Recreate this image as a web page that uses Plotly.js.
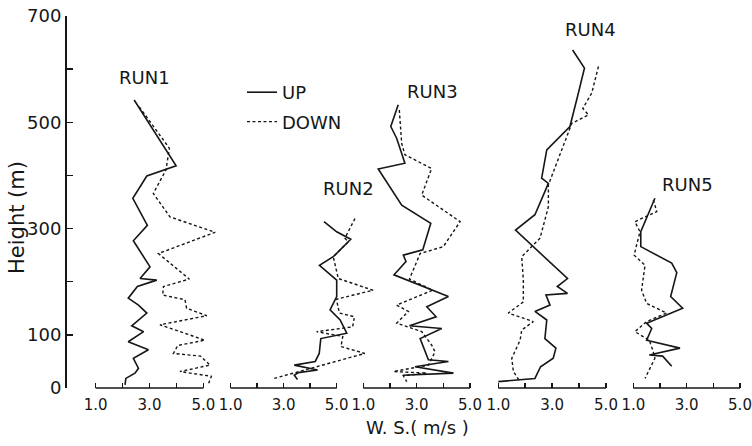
<!DOCTYPE html>
<html>
<head>
<meta charset="utf-8">
<script src="https://cdn.plot.ly/plotly-3.0.1.min.js"></script>
<style>
  html, body { margin: 0; padding: 0; background: #fff; }
  #chart { width: 752px; height: 446px; }
</style>
</head>
<body>
<div id="chart"></div>
<script>
// Wind speed profiles (m/s) against height (m), ascent (UP) and descent (DOWN) for five runs.
const runNames = ['RUN1', 'RUN2', 'RUN3', 'RUN4', 'RUN5'];

const run1UpSpeed    = [2.43, 3.99, 2.90, 2.38, 2.92, 2.40, 3.02, 2.65, 3.27, 2.55, 2.21, 2.59, 2.90, 2.34, 2.78, 2.21, 2.96, 2.40, 2.59, 2.46, 2.12, 2.09];
const run1UpHeight   = [542, 418, 399, 357, 306, 277, 228, 206, 203, 191, 169, 156, 141, 117, 106, 87, 72, 56, 37, 28, 18, 6];
const run1DownSpeed  = [2.62, 3.74, 3.61, 3.14, 3.76, 5.44, 3.33, 4.48, 3.52, 3.49, 4.32, 4.38, 5.13, 3.39, 5.06, 4.05, 3.89, 4.90, 5.25, 4.13, 5.30, 5.20];
const run1DownHeight = [529, 451, 410, 366, 322, 293, 253, 205, 191, 175, 166, 150, 136, 119, 90, 80, 65, 60, 43, 31, 22, 9];

const run2UpSpeed    = [4.52, 5.00, 5.53, 4.87, 4.35, 5.00, 5.00, 4.75, 5.13, 5.38, 4.40, 4.34, 4.19, 3.40, 4.28, 3.55, 3.40, 3.52];
const run2UpHeight   = [313, 294, 280, 247, 231, 203, 172, 147, 128, 103, 93, 65, 50, 43, 34, 29, 24, 16];
const run2DownSpeed  = [5.69, 5.31, 5.44, 4.87, 5.06, 6.37, 4.99, 5.10, 5.67, 5.60, 4.24, 5.23, 5.16, 6.06, 2.64];
const run2DownHeight = [319, 282, 275, 247, 206, 184, 167, 141, 134, 115, 106, 97, 78, 65, 18];

const run3UpSpeed    = [2.31, 2.03, 2.25, 2.56, 1.56, 2.44, 3.53, 3.23, 2.50, 2.60, 2.15, 4.19, 3.38, 3.73, 2.73, 3.94, 3.13, 3.25, 3.44, 4.19, 2.94, 4.38, 2.48];
const run3UpHeight   = [533, 492, 470, 423, 412, 344, 310, 260, 250, 238, 213, 172, 153, 134, 117, 112, 93, 78, 53, 50, 40, 28, 24];
const run3DownSpeed  = [2.35, 2.44, 2.56, 3.56, 3.19, 4.63, 4.00, 3.13, 2.73, 3.60, 2.25, 2.69, 2.25, 3.19, 3.56, 3.69, 3.44, 2.13, 3.38, 2.50, 2.63];
const run3DownHeight = [523, 460, 439, 413, 363, 313, 266, 253, 205, 184, 156, 144, 122, 106, 81, 68, 43, 31, 28, 23, 12];

const run4UpSpeed    = [3.76, 4.20, 3.94, 3.66, 2.80, 2.61, 2.86, 2.36, 1.64, 3.57, 3.19, 3.57, 2.77, 2.92, 2.36, 2.80, 2.73, 3.14, 3.04, 2.57, 2.36, 1.00];
const run4UpHeight   = [636, 602, 548, 492, 448, 395, 385, 326, 297, 206, 191, 178, 175, 156, 144, 128, 93, 75, 56, 40, 18, 12];
const run4DownSpeed  = [4.72, 4.47, 4.14, 4.35, 3.73, 2.86, 2.86, 2.55, 1.87, 1.93, 1.93, 1.37, 2.30, 1.87, 1.81, 1.50, 1.56, 1.81];
const run4DownHeight = [605, 555, 526, 514, 498, 382, 341, 282, 247, 203, 162, 141, 125, 109, 90, 56, 31, 12];

const run5UpSpeed    = [1.81, 1.60, 1.28, 1.28, 2.44, 2.63, 2.40, 2.85, 1.50, 1.69, 1.50, 2.75, 1.60, 2.10, 2.44];
const run5UpHeight   = [357, 332, 294, 266, 235, 217, 172, 150, 122, 112, 90, 75, 62, 60, 41];
const run5DownSpeed  = [1.75, 1.88, 1.06, 1.25, 1.03, 1.44, 1.31, 1.50, 2.25, 1.50, 1.06, 1.60, 1.75, 1.81, 1.44];
const run5DownHeight = [354, 332, 313, 294, 250, 231, 184, 159, 141, 125, 106, 90, 68, 56, 18];

// Label anchor for each run, in that run's own speed/height units
const runLabelSpeed  = [2.83, 5.46, 3.61, 4.41, 3.05];
const runLabelHeight = [585, 375, 557, 674, 383];

const heightTicks = [0, 100, 200, 300, 400, 500, 600, 700];
const heightTickText = ['0', '100', '', '300', '', '500', '', '700'];
const speedTicks = [1, 2, 3, 4, 5];
const speedTickText = ['1.0', '', '3.0', '', '5.0'];

const profiles = [
  { up: [run1UpSpeed, run1UpHeight], down: [run1DownSpeed, run1DownHeight] },
  { up: [run2UpSpeed, run2UpHeight], down: [run2DownSpeed, run2DownHeight] },
  { up: [run3UpSpeed, run3UpHeight], down: [run3DownSpeed, run3DownHeight] },
  { up: [run4UpSpeed, run4UpHeight], down: [run4DownSpeed, run4DownHeight] },
  { up: [run5UpSpeed, run5UpHeight], down: [run5DownSpeed, run5DownHeight] }
];

// Page geometry: plot area and the pixel span of the 1.0..5.0 scale of each panel
const W = 752, H = 446;
const M = { l: 67, r: 8, t: 16, b: 58 };
const plotL = M.l, plotR = W - M.r;
const panelPx = [[95.7, 203.3], [230.7, 336.7], [363.3, 470], [498.3, 606], [633.3, 740]];

const INK = '#161616';
const FONT = 'DejaVu Sans, Liberation Sans, sans-serif';

const traces = [];
const layout = {
  width: W, height: H,
  margin: M,
  paper_bgcolor: '#fff',
  plot_bgcolor: '#fff',
  font: { family: FONT, color: INK },
  showlegend: true,
  legend: {
    x: (242 - plotL) / (plotR - plotL), xanchor: 'left',
    y: (388 - 74) / (H - M.t - M.b), yanchor: 'top',
    bgcolor: 'rgba(0,0,0,0)', borderwidth: 0,
    font: { family: FONT, size: 18, color: INK },
    tracegroupgap: 3, itemwidth: 30
  },
  yaxis: {
    range: [0, 700],
    tickvals: heightTicks, ticktext: heightTickText,
    ticks: 'inside', ticklen: 6, tickwidth: 1.5, tickcolor: INK,
    showline: true, linewidth: 2, linecolor: INK,
    showgrid: false, zeroline: false,
    tickfont: { family: FONT, size: 18, color: INK },
    fixedrange: true
  },
  shapes: [],
  annotations: []
};

panelPx.forEach((px, i) => {
  const unit = (px[1] - px[0]) / 4;
  const axKey = i === 0 ? 'xaxis' : 'xaxis' + (i + 1);
  const ref = i === 0 ? 'x' : 'x' + (i + 1);
  layout[axKey] = {
    domain: [0, 1],
    range: [1 - (px[0] - plotL) / unit, 5 + (plotR - px[1]) / unit],
    anchor: 'y',
    tickvals: speedTicks, ticktext: speedTickText,
    ticks: 'inside', ticklen: 5, tickwidth: 1.5, tickcolor: INK,
    showline: false, showgrid: false, zeroline: false,
    tickfont: { family: FONT, size: 15, color: INK },
    ticklabelstandoff: 6,
    fixedrange: true
  };
  if (i > 0) layout[axKey].overlaying = 'x';

  // baseline of the panel's speed scale
  layout.shapes.push({
    type: 'line', xref: ref, yref: 'paper',
    x0: 1, x1: 5, y0: 0, y1: 0,
    line: { color: INK, width: 1.6 }
  });

  const p = profiles[i];
  traces.push({
    type: 'scatter', mode: 'lines',
    x: p.up[0], y: p.up[1], xaxis: ref, yaxis: 'y',
    name: 'UP', legendgroup: 'up', showlegend: i === 0,
    line: { color: INK, width: 1.6 },
    hoverinfo: 'skip'
  });
  traces.push({
    type: 'scatter', mode: 'lines',
    x: p.down[0], y: p.down[1], xaxis: ref, yaxis: 'y',
    name: 'DOWN', legendgroup: 'down', showlegend: i === 0,
    line: { color: INK, width: 1.4, dash: '3px,2.5px' },
    hoverinfo: 'skip'
  });

  layout.annotations.push({
    xref: ref, yref: 'y',
    x: runLabelSpeed[i], y: runLabelHeight[i],
    text: runNames[i], showarrow: false,
    xanchor: 'center', yanchor: 'middle',
    font: { family: FONT, size: 18, color: INK }
  });
});

// axis titles
layout.annotations.push({
  xref: 'paper', yref: 'paper',
  x: (417 - plotL) / (plotR - plotL), y: (388 - 428) / (H - M.t - M.b),
  text: 'W. S.( m/s )', showarrow: false,
  xanchor: 'center', yanchor: 'middle',
  font: { family: FONT, size: 18, color: INK }
});
layout.annotations.push({
  xref: 'paper', yref: 'paper',
  x: (17 - plotL) / (plotR - plotL), y: (388 - 218) / (H - M.t - M.b),
  text: 'Height (m)', textangle: -90, showarrow: false,
  xanchor: 'center', yanchor: 'middle',
  font: { family: FONT, size: 21, color: INK }
});

Plotly.newPlot('chart', traces, layout, { staticPlot: true, displayModeBar: false });
</script>
</body>
</html>
